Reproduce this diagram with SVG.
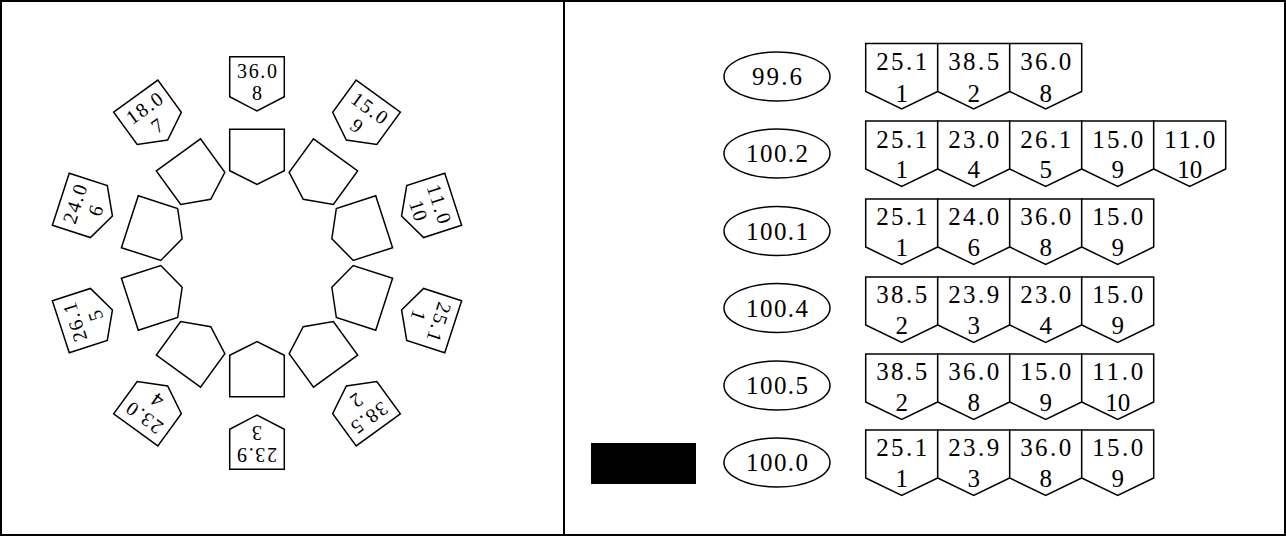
<svg xmlns="http://www.w3.org/2000/svg" xmlns:xlink="http://www.w3.org/1999/xlink" width="1286" height="536" viewBox="0 0 1286 536">
<style>
.sh{fill:#fff;stroke:#000;stroke-width:1.5;stroke-linejoin:miter}
.t{font-family:"Liberation Serif",serif;fill:#000;text-anchor:middle}
.ts{font-size:20px}
.tl{font-size:25px}
</style>
<defs>
<path id="outer" d="M229.7,56.7 H284.3 V96.7 L257,111 L229.7,96.7 Z"/>
<path id="inner" d="M229.7,129.3 H284.3 V170.7 L257,184.3 L229.7,170.7 Z"/>
</defs>
<rect x="1" y="1" width="1284" height="534" fill="#fff" stroke="#000" stroke-width="2"/>
<line x1="564" y1="0" x2="564" y2="536" stroke="#000" stroke-width="2"/>
<g id="ring-inner">
<use xlink:href="#inner" class="sh" transform="rotate(0 257 263)"/>
<use xlink:href="#inner" class="sh" transform="rotate(36 257 263)"/>
<use xlink:href="#inner" class="sh" transform="rotate(72 257 263)"/>
<use xlink:href="#inner" class="sh" transform="rotate(108 257 263)"/>
<use xlink:href="#inner" class="sh" transform="rotate(144 257 263)"/>
<use xlink:href="#inner" class="sh" transform="rotate(180 257 263)"/>
<use xlink:href="#inner" class="sh" transform="rotate(216 257 263)"/>
<use xlink:href="#inner" class="sh" transform="rotate(252 257 263)"/>
<use xlink:href="#inner" class="sh" transform="rotate(288 257 263)"/>
<use xlink:href="#inner" class="sh" transform="rotate(324 257 263)"/>
</g>
<g id="label-8" transform="rotate(0 257 263)"><use xlink:href="#outer" class="sh"/><text class="t ts" x="257" y="78.3" textLength="40">36.0</text><text class="t ts" x="257" y="100">8</text></g>
<g id="label-9" transform="rotate(36 257 263)"><use xlink:href="#outer" class="sh"/><text class="t ts" x="257" y="78.3" textLength="40">15.0</text><text class="t ts" x="257" y="100">9</text></g>
<g id="label-10" transform="rotate(72 257 263)"><use xlink:href="#outer" class="sh"/><text class="t ts" x="257" y="78.3" textLength="40">11.0</text><text class="t ts" x="257" y="100">10</text></g>
<g id="label-1" transform="rotate(108 257 263)"><use xlink:href="#outer" class="sh"/><text class="t ts" x="257" y="78.3" textLength="40">25.1</text><text class="t ts" x="257" y="100">1</text></g>
<g id="label-2" transform="rotate(144 257 263)"><use xlink:href="#outer" class="sh"/><text class="t ts" x="257" y="78.3" textLength="40">38.5</text><text class="t ts" x="257" y="100">2</text></g>
<g id="label-3" transform="rotate(180 257 263)"><use xlink:href="#outer" class="sh"/><text class="t ts" x="257" y="78.3" textLength="40">23.9</text><text class="t ts" x="257" y="100">3</text></g>
<g id="label-4" transform="rotate(216 257 263)"><use xlink:href="#outer" class="sh"/><text class="t ts" x="257" y="78.3" textLength="40">23.0</text><text class="t ts" x="257" y="100">4</text></g>
<g id="label-5" transform="rotate(252 257 263)"><use xlink:href="#outer" class="sh"/><text class="t ts" x="257" y="78.3" textLength="40">26.1</text><text class="t ts" x="257" y="100">5</text></g>
<g id="label-6" transform="rotate(288 257 263)"><use xlink:href="#outer" class="sh"/><text class="t ts" x="257" y="78.3" textLength="40">24.0</text><text class="t ts" x="257" y="100">6</text></g>
<g id="label-7" transform="rotate(324 257 263)"><use xlink:href="#outer" class="sh"/><text class="t ts" x="257" y="78.3" textLength="40">18.0</text><text class="t ts" x="257" y="100">7</text></g>
<g id="black-box"><rect x="591" y="443" width="105" height="41" fill="#000"/></g>
<g id="sum-1"><ellipse class="sh" cx="777" cy="76.5" rx="53" ry="24.5"/><text class="t tl" x="777" y="85" textLength="50">99.6</text></g>
<g id="sum-2"><ellipse class="sh" cx="777" cy="153.5" rx="53" ry="24.5"/><text class="t tl" x="777" y="162" textLength="62">100.2</text></g>
<g id="sum-3"><ellipse class="sh" cx="777" cy="231" rx="53" ry="24.5"/><text class="t tl" x="777" y="239.5" textLength="62">100.1</text></g>
<g id="sum-4"><ellipse class="sh" cx="777" cy="308" rx="53" ry="24.5"/><text class="t tl" x="777" y="316.5" textLength="62">100.4</text></g>
<g id="sum-5"><ellipse class="sh" cx="777" cy="385.5" rx="53" ry="24.5"/><text class="t tl" x="777" y="394" textLength="62">100.5</text></g>
<g id="sum-6"><ellipse class="sh" cx="777" cy="462.5" rx="53" ry="24.5"/><text class="t tl" x="777" y="471" textLength="62">100.0</text></g>
<g id="row-1" transform="translate(0 43.5)">
<path class="sh" d="M865.7,0 H937.7 V48 L901.7,65.5 L865.7,48 Z"/><text class="t tl" x="901.7" y="26" textLength="51">25.1</text><text class="t tl" x="901.7" y="58">1</text>
<path class="sh" d="M937.7,0 H1009.7 V48 L973.7,65.5 L937.7,48 Z"/><text class="t tl" x="973.7" y="26" textLength="51">38.5</text><text class="t tl" x="973.7" y="58">2</text>
<path class="sh" d="M1009.7,0 H1081.7 V48 L1045.7,65.5 L1009.7,48 Z"/><text class="t tl" x="1045.7" y="26" textLength="51">36.0</text><text class="t tl" x="1045.7" y="58">8</text>
</g>
<g id="row-2" transform="translate(0 121)">
<path class="sh" d="M865.7,0 H937.7 V48 L901.7,65.5 L865.7,48 Z"/><text class="t tl" x="901.7" y="27" textLength="51">25.1</text><text class="t tl" x="901.7" y="57">1</text>
<path class="sh" d="M937.7,0 H1009.7 V48 L973.7,65.5 L937.7,48 Z"/><text class="t tl" x="973.7" y="27" textLength="51">23.0</text><text class="t tl" x="973.7" y="57">4</text>
<path class="sh" d="M1009.7,0 H1081.7 V48 L1045.7,65.5 L1009.7,48 Z"/><text class="t tl" x="1045.7" y="27" textLength="51">26.1</text><text class="t tl" x="1045.7" y="57">5</text>
<path class="sh" d="M1081.7,0 H1153.7 V48 L1117.7,65.5 L1081.7,48 Z"/><text class="t tl" x="1117.7" y="27" textLength="51">15.0</text><text class="t tl" x="1117.7" y="57">9</text>
<path class="sh" d="M1153.7,0 H1225.7 V48 L1189.7,65.5 L1153.7,48 Z"/><text class="t tl" x="1189.7" y="27" textLength="51">11.0</text><text class="t tl" x="1189.7" y="57">10</text>
</g>
<g id="row-3" transform="translate(0 199)">
<path class="sh" d="M865.7,0 H937.7 V48 L901.7,65.5 L865.7,48 Z"/><text class="t tl" x="901.7" y="26" textLength="51">25.1</text><text class="t tl" x="901.7" y="57">1</text>
<path class="sh" d="M937.7,0 H1009.7 V48 L973.7,65.5 L937.7,48 Z"/><text class="t tl" x="973.7" y="26" textLength="51">24.0</text><text class="t tl" x="973.7" y="57">6</text>
<path class="sh" d="M1009.7,0 H1081.7 V48 L1045.7,65.5 L1009.7,48 Z"/><text class="t tl" x="1045.7" y="26" textLength="51">36.0</text><text class="t tl" x="1045.7" y="57">8</text>
<path class="sh" d="M1081.7,0 H1153.7 V48 L1117.7,65.5 L1081.7,48 Z"/><text class="t tl" x="1117.7" y="26" textLength="51">15.0</text><text class="t tl" x="1117.7" y="57">9</text>
</g>
<g id="row-4" transform="translate(0 277)">
<path class="sh" d="M865.7,0 H937.7 V48 L901.7,65.5 L865.7,48 Z"/><text class="t tl" x="901.7" y="26" textLength="51">38.5</text><text class="t tl" x="901.7" y="57">2</text>
<path class="sh" d="M937.7,0 H1009.7 V48 L973.7,65.5 L937.7,48 Z"/><text class="t tl" x="973.7" y="26" textLength="51">23.9</text><text class="t tl" x="973.7" y="57">3</text>
<path class="sh" d="M1009.7,0 H1081.7 V48 L1045.7,65.5 L1009.7,48 Z"/><text class="t tl" x="1045.7" y="26" textLength="51">23.0</text><text class="t tl" x="1045.7" y="57">4</text>
<path class="sh" d="M1081.7,0 H1153.7 V48 L1117.7,65.5 L1081.7,48 Z"/><text class="t tl" x="1117.7" y="26" textLength="51">15.0</text><text class="t tl" x="1117.7" y="57">9</text>
</g>
<g id="row-5" transform="translate(0 354)">
<path class="sh" d="M865.7,0 H937.7 V48 L901.7,65.5 L865.7,48 Z"/><text class="t tl" x="901.7" y="26" textLength="51">38.5</text><text class="t tl" x="901.7" y="57">2</text>
<path class="sh" d="M937.7,0 H1009.7 V48 L973.7,65.5 L937.7,48 Z"/><text class="t tl" x="973.7" y="26" textLength="51">36.0</text><text class="t tl" x="973.7" y="57">8</text>
<path class="sh" d="M1009.7,0 H1081.7 V48 L1045.7,65.5 L1009.7,48 Z"/><text class="t tl" x="1045.7" y="26" textLength="51">15.0</text><text class="t tl" x="1045.7" y="57">9</text>
<path class="sh" d="M1081.7,0 H1153.7 V48 L1117.7,65.5 L1081.7,48 Z"/><text class="t tl" x="1117.7" y="26" textLength="51">11.0</text><text class="t tl" x="1117.7" y="57">10</text>
</g>
<g id="row-6" transform="translate(0 430)">
<path class="sh" d="M865.7,0 H937.7 V48 L901.7,65.5 L865.7,48 Z"/><text class="t tl" x="901.7" y="26" textLength="51">25.1</text><text class="t tl" x="901.7" y="57">1</text>
<path class="sh" d="M937.7,0 H1009.7 V48 L973.7,65.5 L937.7,48 Z"/><text class="t tl" x="973.7" y="26" textLength="51">23.9</text><text class="t tl" x="973.7" y="57">3</text>
<path class="sh" d="M1009.7,0 H1081.7 V48 L1045.7,65.5 L1009.7,48 Z"/><text class="t tl" x="1045.7" y="26" textLength="51">36.0</text><text class="t tl" x="1045.7" y="57">8</text>
<path class="sh" d="M1081.7,0 H1153.7 V48 L1117.7,65.5 L1081.7,48 Z"/><text class="t tl" x="1117.7" y="26" textLength="51">15.0</text><text class="t tl" x="1117.7" y="57">9</text>
</g>
</svg>
